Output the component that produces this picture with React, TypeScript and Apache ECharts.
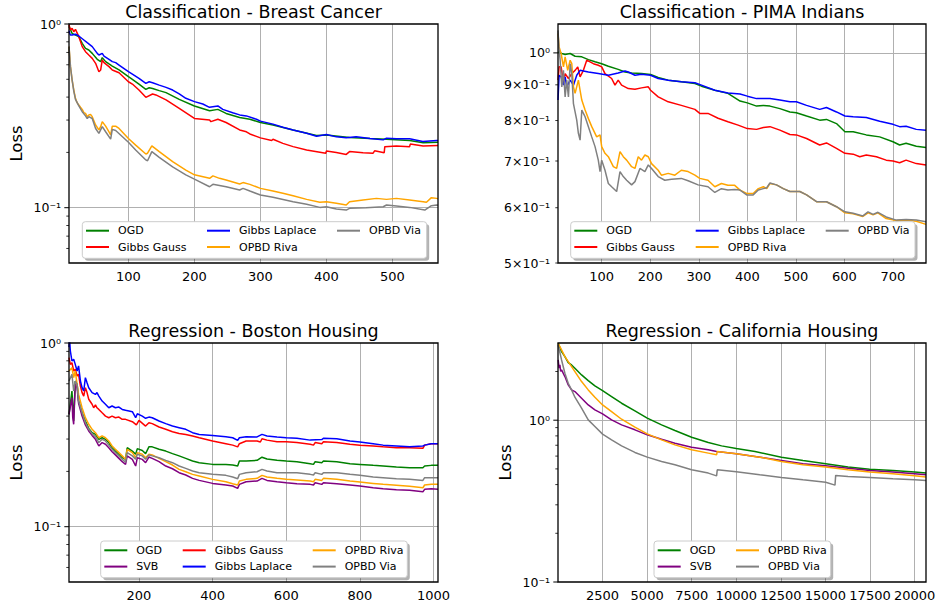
import React, { useEffect, useRef } from 'react';
import * as echarts from 'echarts';

type Pt = [number, number];

// ---------------- Breast Cancer (classification) ----------------
const bcOGD: Pt[] = [[10, 0.97], [14.7, 0.889], [19.8, 0.87], [24.9, 0.853], [30, 0.785], [35, 0.737], [40, 0.722], [45.2, 0.692], [52.8, 0.642], [58, 0.624], [60.4, 0.656], [65.5, 0.624], [70.6, 0.606], [75.6, 0.59], [85.8, 0.562], [100, 0.517], [106, 0.5], [116, 0.471], [126.4, 0.441], [131.5, 0.45], [136.6, 0.446], [146.7, 0.434], [157, 0.423], [177, 0.389], [200, 0.358], [223, 0.337], [235.5, 0.343], [248, 0.326], [268.5, 0.31], [284, 0.303], [300, 0.291], [319, 0.282], [349.5, 0.265], [385, 0.247], [400, 0.249], [435, 0.241], [466, 0.238], [491, 0.236], [526, 0.232], [546.5, 0.226], [569, 0.227]];
const bcGibbsGauss: Pt[] = [[10, 0.99], [12, 0.927], [14.7, 0.947], [17.3, 0.908], [19.8, 0.935], [24.9, 0.853], [30, 0.753], [35, 0.707], [40, 0.678], [45.2, 0.65], [50.3, 0.611], [55.3, 0.55], [58, 0.562], [60.4, 0.637], [63, 0.616], [70.6, 0.586], [75.6, 0.562], [85.8, 0.543], [100, 0.485], [106, 0.471], [116, 0.437], [126.4, 0.399], [136.6, 0.416], [141.6, 0.411], [157, 0.386], [177, 0.347], [200, 0.306], [223, 0.3], [225, 0.294], [235.5, 0.303], [248, 0.291], [268.5, 0.265], [278.7, 0.259], [284, 0.252], [300, 0.24], [317, 0.232], [319, 0.236], [334, 0.224], [349.5, 0.215], [370, 0.206], [399, 0.198], [400, 0.2035], [415, 0.2], [430, 0.195], [435, 0.202], [455.5, 0.199], [470.7, 0.198], [473, 0.204], [487.5, 0.199], [488.4, 0.215], [506, 0.217], [526, 0.215], [527, 0.222], [546.5, 0.217], [569, 0.218]];
const bcGibbsLaplace: Pt[] = [[10, 0.92], [12, 0.87], [14.7, 0.871], [19.8, 0.88], [24.9, 0.86], [32.5, 0.818], [37.6, 0.791], [45.2, 0.753], [52.8, 0.692], [55.3, 0.678], [60.4, 0.692], [63, 0.669], [70.6, 0.642], [75.6, 0.624], [80.7, 0.616], [85.8, 0.598], [100, 0.55], [106, 0.534], [116, 0.506], [126.4, 0.475], [131.5, 0.485], [136.6, 0.479], [146.7, 0.465], [157, 0.452], [167, 0.437], [177, 0.416], [187, 0.394], [200, 0.378], [212.7, 0.367], [222.8, 0.352], [235.5, 0.358], [243, 0.343], [258, 0.329], [268.5, 0.32], [278.7, 0.316], [294, 0.303], [300, 0.296], [319, 0.285], [334, 0.274], [349.5, 0.265], [370, 0.254], [385, 0.245], [400, 0.25], [415, 0.243], [430, 0.24], [445, 0.243], [466, 0.238], [486, 0.234], [491, 0.239], [506, 0.237], [526, 0.237], [546, 0.229], [567, 0.232], [569, 0.232]];
const bcOPBDRiva: Pt[] = [[10, 0.753], [12.2, 0.586], [14.7, 0.496], [17.3, 0.437], [19.8, 0.394], [22.3, 0.373], [24.9, 0.362], [27.4, 0.352], [30, 0.343], [32.5, 0.329], [35, 0.326], [37.6, 0.313], [40.1, 0.32], [42.6, 0.322], [45.2, 0.313], [50.3, 0.282], [55.3, 0.265], [57.9, 0.276], [60.4, 0.294], [65.5, 0.278], [70.6, 0.259], [73.1, 0.249], [75.6, 0.278], [80.7, 0.278], [85.8, 0.27], [100, 0.238], [111, 0.219], [126.4, 0.196], [129, 0.198], [135.5, 0.217], [146.7, 0.202], [167, 0.178], [187, 0.16], [200, 0.151], [223, 0.1445], [228, 0.149], [238, 0.1445], [248, 0.1415], [268.5, 0.1346], [273.6, 0.137], [284, 0.134], [300, 0.1274], [319, 0.1232], [334, 0.1197], [349.5, 0.1162], [370, 0.111], [390, 0.107], [400, 0.1078], [415, 0.1056], [430, 0.1034], [435, 0.1078], [455.5, 0.1101], [475.8, 0.1124], [491, 0.111], [506, 0.1124], [526, 0.1101], [546.5, 0.1078], [551.5, 0.107], [559, 0.1134], [567, 0.1124], [569, 0.112]];
const bcOPBDVia: Pt[] = [[10, 0.753], [12.2, 0.586], [14.7, 0.496], [17.3, 0.43], [19.8, 0.389], [24.9, 0.358], [30, 0.333], [35, 0.316], [37.6, 0.306], [40.1, 0.313], [45.2, 0.306], [50.3, 0.27], [55.3, 0.254], [57.9, 0.265], [60.4, 0.276], [65.5, 0.259], [73.1, 0.236], [75.6, 0.267], [80.7, 0.263], [100, 0.227], [111, 0.206], [126.4, 0.182], [129, 0.18], [135.5, 0.202], [146.7, 0.188], [167, 0.167], [187, 0.151], [200, 0.143], [223, 0.13], [228, 0.134], [248, 0.13], [268.5, 0.1248], [273.6, 0.1274], [284, 0.1232], [300, 0.1173], [319, 0.1139], [349.5, 0.1078], [370, 0.1043], [390, 0.1004], [400, 0.1012], [415, 0.0983], [430, 0.0971], [435, 0.0992], [460, 0.1], [486, 0.1012], [491, 0.1034], [506, 0.1021], [526, 0.1004], [549, 0.0971], [559, 0.1025], [567, 0.1034], [569, 0.103]];

// ---------------- PIMA Indians (classification) ----------------
const pimaOGD: Pt[] = [[10, 1.003], [17.8, 0.998], [24.7, 0.995], [35, 0.998], [45.2, 0.989], [59, 0.987], [72.6, 0.978], [86.3, 0.971], [100, 0.965], [113.7, 0.957], [134, 0.947], [148, 0.939], [161.6, 0.936], [182, 0.934], [200.7, 0.931], [216.4, 0.922], [237, 0.914], [264, 0.909], [292, 0.904], [305.5, 0.896], [333, 0.884], [360, 0.875], [385, 0.853], [400, 0.848], [419, 0.839], [433, 0.841], [446.6, 0.839], [467, 0.832], [487.7, 0.823], [501, 0.821], [522, 0.812], [549, 0.801], [563, 0.803], [583.6, 0.792], [601, 0.771], [618, 0.771], [645, 0.763], [672.6, 0.758], [700, 0.746], [713.7, 0.738], [727, 0.742], [748, 0.735], [768, 0.732]];
const pimaGibbsGauss: Pt[] = [[10, 0.914], [12.3, 0.955], [16.4, 0.955], [21.2, 0.909], [24.7, 0.934], [31.5, 0.919], [38.4, 0.934], [45.2, 0.944], [50.7, 0.955], [55.5, 0.924], [62.3, 0.944], [69.2, 0.976], [76, 0.971], [82.9, 0.965], [93, 0.96], [100, 0.955], [106.8, 0.934], [120.5, 0.919], [127.4, 0.899], [134, 0.914], [141, 0.899], [154.8, 0.889], [168.5, 0.887], [182, 0.891], [196, 0.894], [200.7, 0.884], [216.4, 0.865], [237, 0.851], [264, 0.841], [292, 0.83], [302, 0.819], [319, 0.819], [339.7, 0.806], [360, 0.797], [381, 0.788], [400, 0.779], [419, 0.777], [433, 0.782], [446.6, 0.784], [467, 0.775], [487.7, 0.764], [501, 0.763], [522, 0.754], [549, 0.738], [563, 0.743], [583.6, 0.73], [601, 0.718], [618, 0.716], [631.5, 0.71], [645, 0.714], [665.8, 0.71], [686, 0.702], [700, 0.7], [713.7, 0.696], [727, 0.702], [748, 0.694], [768, 0.691]];
const pimaGibbsLaplace: Pt[] = [[10, 0.856], [12.3, 0.929], [16.4, 0.924], [21.2, 0.899], [24.7, 0.924], [28, 0.894], [35, 0.914], [41.8, 0.899], [48.6, 0.929], [55.5, 0.944], [62.3, 0.942], [72.6, 0.939], [93, 0.934], [113.7, 0.929], [134, 0.936], [148, 0.942], [154.8, 0.939], [168.5, 0.929], [182, 0.932], [200.7, 0.929], [216.4, 0.919], [237, 0.914], [264, 0.909], [292, 0.906], [305.5, 0.899], [333, 0.884], [360, 0.876], [385, 0.873], [400, 0.867], [419, 0.86], [446.6, 0.86], [467, 0.856], [487.7, 0.851], [501, 0.851], [522, 0.841], [549, 0.83], [563, 0.835], [583.6, 0.823], [601, 0.812], [618, 0.81], [645, 0.808], [672.6, 0.798], [700, 0.79], [713.7, 0.784], [727, 0.785], [748, 0.777], [768, 0.775]];
const pimaOPBDRiva: Pt[] = [[10, 1.066], [12.3, 1.02], [16.4, 0.998], [21.2, 0.955], [24.7, 0.987], [30, 0.944], [35, 0.976], [38.4, 0.965], [41.8, 0.894], [45.2, 0.875], [52, 0.914], [55.5, 0.884], [59, 0.856], [65.8, 0.828], [72.6, 0.805], [79.5, 0.784], [89.7, 0.758], [96.6, 0.763], [100, 0.734], [106.8, 0.718], [113.7, 0.71], [124, 0.687], [130.8, 0.683], [137.7, 0.722], [144.5, 0.71], [151.4, 0.702], [161.6, 0.687], [168.5, 0.683], [175.3, 0.71], [182, 0.702], [189, 0.714], [196, 0.71], [202.7, 0.694], [216.4, 0.679], [223, 0.668], [237, 0.672], [250.7, 0.668], [264, 0.679], [278, 0.676], [292, 0.668], [302, 0.661], [319, 0.657], [333, 0.643], [346.6, 0.65], [360, 0.646], [374, 0.646], [385, 0.636], [398.6, 0.629], [412, 0.629], [422.6, 0.639], [433, 0.643], [440, 0.639], [446.6, 0.65], [460, 0.647], [474, 0.639], [487.7, 0.633], [508, 0.633], [522, 0.626], [542.5, 0.612], [563, 0.612], [583.6, 0.602], [601, 0.59], [618, 0.588], [638, 0.583], [648.6, 0.59], [659, 0.586], [669, 0.59], [686, 0.579], [707, 0.575], [727, 0.576], [748, 0.574], [768, 0.568]];
const pimaOPBDVia: Pt[] = [[10, 1.077], [12.3, 1.009], [14.4, 0.976], [17.8, 0.894], [21.2, 0.944], [24.7, 0.865], [28, 0.914], [31.5, 0.865], [35, 0.965], [38.4, 0.934], [41.8, 0.846], [48.6, 0.801], [52, 0.767], [55.5, 0.75], [59, 0.828], [65.8, 0.81], [72.6, 0.784], [79.5, 0.758], [86.3, 0.734], [93, 0.702], [96.6, 0.676], [100, 0.702], [106.8, 0.679], [113.7, 0.65], [120.5, 0.643], [130.8, 0.633], [137.7, 0.676], [144.5, 0.665], [151.4, 0.657], [161.6, 0.647], [168.5, 0.654], [178.8, 0.683], [189, 0.676], [196, 0.691], [202.7, 0.683], [216.4, 0.665], [230, 0.657], [243.8, 0.659], [264, 0.661], [278, 0.656], [298.6, 0.647], [319, 0.643], [333, 0.631], [346.6, 0.639], [360, 0.636], [374, 0.637], [385, 0.636], [398.6, 0.626], [412, 0.626], [422.6, 0.636], [433, 0.639], [440, 0.641], [446.6, 0.651], [460, 0.647], [474, 0.639], [487.7, 0.633], [508, 0.633], [522, 0.626], [542.5, 0.612], [563, 0.612], [583.6, 0.602], [601, 0.592], [618, 0.589], [638, 0.584], [648.6, 0.592], [659, 0.587], [669, 0.591], [686, 0.582], [707, 0.576], [727, 0.577], [748, 0.576], [768, 0.573]];

// ---------------- Boston Housing (regression) ----------------
const bhOGD: Pt[] = [[10, 0.409], [18, 0.548], [22.7, 0.376], [27, 0.621], [32, 0.596], [36, 0.483], [45.5, 0.417], [54.5, 0.376], [63.6, 0.343], [72.7, 0.325], [81.8, 0.318], [91, 0.299], [100, 0.305], [109, 0.299], [118, 0.287], [127, 0.269], [136, 0.258], [145.5, 0.248], [154.5, 0.2375], [163.6, 0.2326], [168, 0.269], [182, 0.258], [191, 0.248], [195.5, 0.266], [209, 0.26], [218, 0.25], [227, 0.272], [236, 0.272], [254.5, 0.264], [272.7, 0.258], [291, 0.25], [309, 0.243], [327, 0.2355], [345.5, 0.2278], [363.6, 0.2231], [400, 0.2184], [436, 0.2184], [454.5, 0.2166], [468, 0.2139], [472.7, 0.2278], [491, 0.2278], [520.7, 0.2297], [534, 0.239], [547.7, 0.2335], [574.8, 0.2297], [600, 0.2278], [628.8, 0.226], [664.9, 0.2203], [673.9, 0.2184], [678.4, 0.2259], [696.4, 0.2231], [700.9, 0.2278], [737, 0.2259], [773, 0.2203], [800, 0.2184], [836, 0.2157], [863, 0.2139], [899, 0.2112], [935, 0.2094], [971, 0.2094], [975.7, 0.2139], [993.7, 0.2157], [1012, 0.2157]];
const bhSVB: Pt[] = [[10, 0.409], [13.6, 0.45], [18, 0.504], [20.2, 0.392], [22.7, 0.361], [27, 0.596], [32, 0.571], [36, 0.469], [45.5, 0.4], [54.5, 0.358], [63.6, 0.332], [72.7, 0.314], [81.8, 0.299], [91, 0.275], [100, 0.287], [109, 0.281], [118, 0.269], [127, 0.256], [136, 0.246], [145.5, 0.2355], [154.5, 0.2259], [163.6, 0.2184], [168, 0.243], [182, 0.2326], [191, 0.2139], [195.5, 0.2375], [209, 0.2326], [218, 0.2231], [227, 0.2395], [236, 0.2355], [254.5, 0.2259], [272.7, 0.2139], [291, 0.2068], [309, 0.1968], [327, 0.1911], [345.5, 0.1833], [363.6, 0.1787], [400, 0.1721], [436, 0.1686], [454.5, 0.1665], [468, 0.1617], [472.7, 0.17], [491, 0.1758], [520.7, 0.1772], [534, 0.1833], [547.7, 0.1787], [574.8, 0.1758], [600, 0.1736], [628.8, 0.1714], [664.9, 0.17], [673.9, 0.1686], [678.4, 0.1736], [696.4, 0.17], [700.9, 0.1736], [737, 0.1714], [773, 0.1686], [800, 0.1665], [836, 0.163], [863, 0.161], [899, 0.159], [935, 0.1577], [971, 0.1551], [975.7, 0.1597], [993.7, 0.161], [1012, 0.1597]];
const bhGibbsGauss: Pt[] = [[10, 0.832], [13.6, 0.765], [18, 0.781], [22.7, 0.704], [27, 0.719], [32, 0.661], [36, 0.675], [41, 0.583], [45.5, 0.537], [50, 0.514], [54.5, 0.571], [59, 0.537], [63.6, 0.494], [72.7, 0.464], [77, 0.444], [81.8, 0.46], [86, 0.444], [91, 0.435], [100, 0.417], [109, 0.4], [118, 0.392], [127, 0.4], [136, 0.392], [145.5, 0.395], [154.5, 0.384], [163.6, 0.384], [182, 0.373], [193, 0.358], [200, 0.379], [218, 0.353], [227, 0.368], [236, 0.364], [254.5, 0.349], [272.7, 0.339], [291, 0.329], [309, 0.322], [327, 0.318], [345.5, 0.312], [363.6, 0.305], [400, 0.293], [436, 0.283], [454.5, 0.278], [468, 0.272], [472.7, 0.283], [491, 0.293], [520.7, 0.293], [529.7, 0.289], [534, 0.301], [547.7, 0.296], [574.8, 0.29], [600, 0.29], [628.8, 0.287], [664.9, 0.281], [673.9, 0.278], [678.4, 0.287], [696.4, 0.283], [700.9, 0.29], [737, 0.287], [773, 0.281], [800, 0.278], [836, 0.275], [863, 0.272], [899, 0.269], [935, 0.269], [971, 0.267], [975.7, 0.278], [993.7, 0.283], [1012, 0.283]];
const bhGibbsLaplace: Pt[] = [[10, 0.95], [11.5, 1.05], [13.6, 0.905], [18, 0.798], [22.7, 0.815], [27, 0.765], [32, 0.704], [36, 0.75], [41, 0.621], [45.5, 0.571], [50, 0.548], [54.5, 0.648], [59, 0.608], [63.6, 0.571], [72.7, 0.537], [81.8, 0.525], [86, 0.537], [91, 0.514], [100, 0.483], [109, 0.464], [118, 0.444], [127, 0.454], [136, 0.444], [145.5, 0.448], [154.5, 0.435], [163.6, 0.43], [182, 0.423], [191, 0.392], [195.5, 0.412], [209, 0.4], [218, 0.389], [227, 0.395], [236, 0.392], [254.5, 0.376], [272.7, 0.364], [291, 0.353], [309, 0.346], [327, 0.339], [345.5, 0.325], [363.6, 0.318], [400, 0.314], [436, 0.309], [454.5, 0.305], [468, 0.295], [472.7, 0.305], [491, 0.309], [520.7, 0.308], [534, 0.318], [547.7, 0.312], [574.8, 0.308], [600, 0.305], [628.8, 0.303], [664.9, 0.296], [696.4, 0.298], [700.9, 0.303], [737, 0.301], [773, 0.293], [800, 0.289], [836, 0.283], [863, 0.278], [899, 0.275], [935, 0.272], [971, 0.275], [975.7, 0.278], [993.7, 0.283], [1012, 0.283]];
const bhOPBDRiva: Pt[] = [[10, 0.704], [18, 0.734], [22.7, 0.648], [27, 0.704], [32, 0.596], [36, 0.525], [45.5, 0.444], [54.5, 0.392], [63.6, 0.361], [72.7, 0.339], [81.8, 0.325], [91, 0.305], [100, 0.312], [109, 0.305], [118, 0.293], [127, 0.275], [136, 0.264], [145.5, 0.253], [154.5, 0.243], [163.6, 0.2326], [168, 0.264], [182, 0.253], [191, 0.2375], [195.5, 0.253], [209, 0.248], [218, 0.2375], [227, 0.248], [236, 0.246], [254.5, 0.2355], [272.7, 0.2259], [291, 0.2166], [309, 0.2051], [327, 0.1992], [345.5, 0.1927], [363.6, 0.1887], [400, 0.181], [436, 0.1758], [454.5, 0.1714], [468, 0.1686], [472.7, 0.1772], [491, 0.181], [520.7, 0.1833], [534, 0.1903], [547.7, 0.1863], [574.8, 0.1833], [600, 0.181], [628.8, 0.1795], [664.9, 0.1772], [673.9, 0.1758], [678.4, 0.181], [696.4, 0.1787], [700.9, 0.1833], [737, 0.181], [773, 0.1772], [800, 0.175], [836, 0.1721], [863, 0.17], [899, 0.1679], [935, 0.1658], [971, 0.163], [975.7, 0.1686], [993.7, 0.17], [1012, 0.17]];
const bhOPBDVia: Pt[] = [[10, 0.621], [18, 0.675], [22.7, 0.548], [27, 0.621], [32, 0.596], [36, 0.483], [45.5, 0.417], [54.5, 0.368], [63.6, 0.339], [72.7, 0.321], [81.8, 0.309], [91, 0.287], [100, 0.299], [109, 0.293], [118, 0.278], [127, 0.264], [136, 0.253], [145.5, 0.243], [154.5, 0.2326], [163.6, 0.2249], [168, 0.253], [182, 0.243], [191, 0.2326], [195.5, 0.248], [209, 0.243], [218, 0.2326], [227, 0.246], [236, 0.243], [254.5, 0.2375], [272.7, 0.2297], [291, 0.2231], [309, 0.2139], [327, 0.2077], [345.5, 0.2009], [363.6, 0.1968], [400, 0.1927], [436, 0.1903], [454.5, 0.1863], [468, 0.1825], [472.7, 0.1927], [491, 0.1968], [520.7, 0.1992], [534, 0.2051], [547.7, 0.2009], [574.8, 0.1968], [600, 0.1968], [628.8, 0.1968], [664.9, 0.1927], [673.9, 0.1911], [678.4, 0.1968], [696.4, 0.1927], [700.9, 0.1968], [737, 0.1968], [773, 0.1927], [800, 0.1903], [836, 0.1863], [863, 0.1848], [899, 0.1825], [935, 0.181], [971, 0.1787], [975.7, 0.1848], [993.7, 0.1848], [1012, 0.1848]];

// ---------------- California Housing (regression) ----------------
const chOGD: Pt[] = [[10, 2.988], [200, 2.654], [387, 2.472], [574, 2.27], [761, 2.195], [948, 2.094], [1322, 1.905], [1696, 1.758], [2070, 1.629], [2500, 1.524], [3005, 1.4], [3566, 1.273], [4314, 1.142], [5006, 1.029], [5810, 0.936], [6558, 0.864], [7493, 0.785], [8428, 0.728], [9176, 0.694], [9999, 0.669], [11046, 0.641], [12530, 0.591], [13743, 0.564], [15013, 0.538], [16265, 0.513], [17479, 0.498], [18786, 0.489], [20000, 0.478], [20640, 0.471]];
const chSVB: Pt[] = [[10, 2.357], [60, 2.1], [106, 2.195], [150, 2.0], [200, 2.045], [387, 1.86], [574, 1.652], [761, 1.539], [948, 1.503], [1322, 1.367], [1696, 1.243], [2070, 1.158], [2500, 1.094], [3005, 1.005], [3566, 0.936], [4314, 0.872], [5006, 0.812], [5810, 0.763], [6558, 0.721], [7493, 0.681], [8428, 0.656], [8895, 0.641], [9999, 0.62], [11046, 0.597], [12530, 0.564], [13743, 0.538], [15013, 0.523], [16265, 0.505], [17479, 0.489], [18786, 0.478], [20000, 0.466], [20640, 0.46]];
const chOPBDRiva: Pt[] = [[10, 2.988], [200, 2.718], [387, 2.472], [574, 2.302], [761, 2.144], [948, 1.997], [1322, 1.733], [1696, 1.539], [2070, 1.387], [2500, 1.243], [3005, 1.131], [3566, 1.014], [4314, 0.905], [5006, 0.823], [5810, 0.756], [6558, 0.704], [7493, 0.656], [8428, 0.626], [8895, 0.611], [8933, 0.641], [9999, 0.62], [11316, 0.591], [12530, 0.556], [13743, 0.53], [15013, 0.513], [16265, 0.494], [17479, 0.478], [18786, 0.466], [20000, 0.453], [20640, 0.445]];
const chOPBDVia: Pt[] = [[10, 2.917], [200, 2.357], [387, 1.95], [574, 1.692], [761, 1.539], [948, 1.387], [1322, 1.186], [1696, 1.005], [2070, 0.914], [2500, 0.82], [3005, 0.756], [3566, 0.694], [4314, 0.632], [5006, 0.591], [5810, 0.556], [6558, 0.53], [7493, 0.494], [8428, 0.471], [8895, 0.453], [8933, 0.494], [9999, 0.48], [11316, 0.46], [12530, 0.443], [13743, 0.428], [15013, 0.414], [15536, 0.397], [15574, 0.456], [16265, 0.449], [17479, 0.443], [18786, 0.434], [20000, 0.428], [20640, 0.424]];

// ---------------- y tick values and labels ----------------
const bcYMajor = [0.1, 1];
const bcYMinor = [0.06, 0.07, 0.08, 0.09, 0.2, 0.3, 0.4, 0.5, 0.6, 0.7, 0.8, 0.9];
const pimaYMajor = [1];
const pimaYMinor = [0.5, 0.6, 0.7, 0.8, 0.9];
const pimaYMinorLabels = ['5×10⁻¹', '6×10⁻¹', '7×10⁻¹', '8×10⁻¹', '9×10⁻¹'];
const bhYMajor = [0.1, 1];
const bhYMinor = [0.06, 0.07, 0.08, 0.09, 0.2, 0.3, 0.4, 0.5, 0.6, 0.7, 0.8, 0.9];
const chYMajor = [0.1, 1];
const chYMinor = [0.2, 0.3, 0.4, 0.5, 0.6, 0.7, 0.8, 0.9, 2];

const COLORS: Record<string, string> = {
  OGD: '#008000',
  SVB: '#800080',
  'Gibbs Gauss': '#ff0000',
  'Gibbs Laplace': '#0000ff',
  'OPBD Riva': '#ffa500',
  'OPBD Via': '#808080',
};

const FONT = 'DejaVu Sans';
const SUP: Record<string, string> = { '0': '⁰', '1': '¹', '2': '²', '3': '³', '4': '⁴', '5': '⁵', '6': '⁶', '7': '⁷', '8': '⁸', '9': '⁹', '-': '⁻' };
const powLabel = (e: number) => '10' + String(e).split('').map((c) => SUP[c] || c).join('');
const logFormatter = (v: number) => {
  const l = Math.log10(v);
  const e = Math.round(l);
  return Math.abs(l - e) < 1e-6 ? powLabel(e) : '';
};
const plainFormatter = (v: number) => String(Math.round(v));

interface Panel {
  title: string;
  grid: { left: number; top: number; width: number; height: number };
  titleTop: number;
  xMin: number;
  xMax: number;
  splitNumber?: number;
  interval?: number;
  yMin: number;
  yMax: number;
  yName?: string;
  series: [string, Pt[]][];
  majors: number[];
  minors: number[];
  minorLabels?: string[];
  legendCols: string[][];
  legendLefts: number[];
  legendTop: number;
  legendBox: { x: number; y: number; w: number; h: number };
}

const panels: Panel[] = [
  {
    title: 'Classification - Breast Cancer',
    grid: { left: 69, top: 24, width: 369, height: 239 },
    titleTop: 3,
    xMin: 10, xMax: 569, splitNumber: 5,
    yMin: 0.05, yMax: 1, yName: 'Loss',
    series: [['OGD', bcOGD], ['Gibbs Gauss', bcGibbsGauss], ['Gibbs Laplace', bcGibbsLaplace], ['OPBD Riva', bcOPBDRiva], ['OPBD Via', bcOPBDVia]],
    majors: bcYMajor, minors: bcYMinor,
    legendCols: [['OGD', 'Gibbs Gauss'], ['Gibbs Laplace', 'OPBD Riva'], ['OPBD Via']],
    legendLefts: [86, 207, 337], legendTop: 225.2,
    legendBox: { x: 82.3, y: 221.7, w: 344.4, h: 36.6 },
  },
  {
    title: 'Classification - PIMA Indians',
    grid: { left: 558, top: 24, width: 368, height: 239 },
    titleTop: 3,
    xMin: 10, xMax: 768, splitNumber: 7,
    yMin: 0.5, yMax: 1.1,
    series: [['OGD', pimaOGD], ['Gibbs Gauss', pimaGibbsGauss], ['Gibbs Laplace', pimaGibbsLaplace], ['OPBD Riva', pimaOPBDRiva], ['OPBD Via', pimaOPBDVia]],
    majors: pimaYMajor, minors: pimaYMinor, minorLabels: pimaYMinorLabels,
    legendCols: [['OGD', 'Gibbs Gauss'], ['Gibbs Laplace', 'OPBD Riva'], ['OPBD Via']],
    legendLefts: [574.3, 695.7, 825.7], legendTop: 225.2,
    legendBox: { x: 570.7, y: 221.7, w: 344.3, h: 36.6 },
  },
  {
    title: 'Regression - Boston Housing',
    grid: { left: 69, top: 343, width: 369, height: 239 },
    titleTop: 322,
    xMin: 10, xMax: 1012, splitNumber: 5,
    yMin: 0.05, yMax: 1, yName: 'Loss',
    series: [['OGD', bhOGD], ['SVB', bhSVB], ['Gibbs Gauss', bhGibbsGauss], ['Gibbs Laplace', bhGibbsLaplace], ['OPBD Riva', bhOPBDRiva], ['OPBD Via', bhOPBDVia]],
    majors: bhYMajor, minors: bhYMinor,
    legendCols: [['OGD', 'SVB'], ['Gibbs Gauss', 'Gibbs Laplace'], ['OPBD Riva', 'OPBD Via']],
    legendLefts: [104.3, 182.7, 312.7], legendTop: 544.8,
    legendBox: { x: 100.7, y: 541, w: 306.6, h: 36.7 },
  },
  {
    title: 'Regression - California Housing',
    grid: { left: 558, top: 343, width: 368, height: 239 },
    titleTop: 322,
    xMin: 0, xMax: 20640, interval: 2500,
    yMin: 0.1, yMax: 3, yName: 'Loss',
    series: [['OGD', chOGD], ['SVB', chSVB], ['OPBD Riva', chOPBDRiva], ['OPBD Via', chOPBDVia]],
    majors: chYMajor, minors: chYMinor,
    legendCols: [['OGD', 'SVB'], ['OPBD Riva', 'OPBD Via']],
    legendLefts: [657.7, 736], legendTop: 544.8,
    legendBox: { x: 654, y: 541, w: 176.7, h: 36.7 },
  },
];

function buildOption() {
  const grid: any[] = [];
  const xAxis: any[] = [];
  const yAxis: any[] = [];
  const series: any[] = [];
  const legend: any[] = [];
  const title: any[] = [];
  const graphic: any[] = [];

  panels.forEach((p, i) => {
    grid.push({ ...p.grid, containLabel: false, outerBoundsMode: 'none', show: false });
    title.push({
      text: p.title,
      left: p.grid.left + p.grid.width / 2,
      top: p.titleTop,
      textAlign: 'center',
      padding: 0,
      textStyle: { fontSize: 17.5, fontWeight: 'normal', color: '#000', fontFamily: FONT },
    });
    xAxis.push({
      gridIndex: i,
      type: 'value',
      min: p.xMin,
      max: p.xMax,
      ...(p.interval ? { interval: p.interval } : { splitNumber: p.splitNumber }),
      axisLine: { show: false },
      axisTick: { show: false },
      axisLabel: { fontSize: 13, color: '#000', fontFamily: FONT, margin: 7, showMinLabel: false, showMaxLabel: false, formatter: plainFormatter },
      splitLine: { show: true, showMinLine: false, showMaxLine: false, lineStyle: { color: '#b0b0b0', width: 1 } },
    });
    yAxis.push({
      gridIndex: i,
      type: 'log',
      logBase: 10,
      min: p.yMin,
      max: p.yMax,
      axisLine: { show: false },
      axisTick: { show: false },
      minorTick: { show: false },
      axisLabel: { fontSize: 12.5, color: '#000', fontFamily: FONT, margin: 8, formatter: logFormatter },
      splitLine: { show: true, showMinLine: false, showMaxLine: false, lineStyle: { color: '#b0b0b0', width: 1 } },
      name: p.yName || '',
      nameLocation: 'middle',
      nameRotate: 90,
      nameGap: 44,
      nameMoveOverlap: false,
      nameTextStyle: { fontSize: 16.5, color: '#000', fontFamily: FONT },
    });
    p.series.forEach(([name, data]) => {
      series.push({
        type: 'line',
        name,
        xAxisIndex: i,
        yAxisIndex: i,
        data,
        color: COLORS[name],
        showSymbol: false,
        symbol: 'none',
        lineStyle: { color: COLORS[name], width: 1.5 },
        z: 2,
        silent: true,
      });
    });
    const ticks = [
      ...p.majors.map((v) => ({ v, major: true, label: '' })),
      ...p.minors.map((v, k) => ({ v, major: false, label: p.minorLabels ? p.minorLabels[k] : '' })),
    ];
    series.push({
      type: 'custom',
      name: 'yticks-' + i,
      xAxisIndex: i,
      yAxisIndex: i,
      silent: true,
      clip: false,
      z: 6,
      data: ticks.map((t) => [p.xMin, t.v]),
      renderItem: (params: any, api: any) => {
        const t = ticks[params.dataIndex];
        const pt = api.coord([api.value(0), api.value(1)]);
        const len = t.major ? 4.7 : 2.7;
        const children: any[] = [
          {
            type: 'line',
            shape: { x1: pt[0] - len, y1: pt[1], x2: pt[0], y2: pt[1] },
            style: { stroke: '#000', lineWidth: t.major ? 1 : 0.8 },
          },
        ];
        if (t.label) {
          children.push({
            type: 'text',
            x: pt[0] - 8,
            y: pt[1],
            style: { text: t.label, align: 'right', verticalAlign: 'middle', fontSize: 12.5, fontFamily: FONT, fill: '#000' },
          });
        }
        return { type: 'group', children };
      },
    });
    p.legendCols.forEach((names, c) => {
      legend.push({
        orient: 'vertical',
        left: p.legendLefts[c],
        top: p.legendTop,
        padding: 0,
        itemGap: 5.3,
        itemWidth: 23,
        itemHeight: 2,
        icon: 'rect',
        selectedMode: false,
        data: names,
        z: 4,
        textStyle: { fontSize: 11, color: '#000', fontFamily: FONT, padding: [0, 0, 0, 4] },
      });
    });
    const b = p.legendBox;
    graphic.push({
      type: 'rect',
      silent: true,
      z: 3,
      shape: { x: b.x + 2.5, y: b.y + 2.5, width: b.w, height: b.h, r: 3 },
      style: { fill: 'rgba(0,0,0,0.3)' },
    });
    graphic.push({
      type: 'rect',
      silent: true,
      z: 3,
      shape: { x: b.x, y: b.y, width: b.w, height: b.h, r: 3 },
      style: { fill: '#ffffff', stroke: '#cccccc', lineWidth: 1 },
    });
    graphic.push({
      type: 'rect',
      silent: true,
      z: 7,
      shape: { x: p.grid.left, y: p.grid.top, width: p.grid.width, height: p.grid.height },
      style: { fill: 'none', stroke: '#000', lineWidth: 1.3 },
    });
  });

  return {
    animation: false,
    backgroundColor: '#ffffff',
    textStyle: { fontFamily: FONT },
    title,
    grid,
    xAxis,
    yAxis,
    legend,
    series,
    graphic,
  };
}

export default function App() {
  const ref = useRef<HTMLDivElement>(null);
  useEffect(() => {
    if (!ref.current) return;
    const chart = echarts.init(ref.current, null, { renderer: 'svg' });
    chart.setOption(buildOption() as any);
    return () => chart.dispose();
  }, []);
  return (
    <div
      ref={ref}
      style={{ position: 'fixed', left: 0, top: 0, width: 938, height: 609, background: '#ffffff' }}
    />
  );
}
